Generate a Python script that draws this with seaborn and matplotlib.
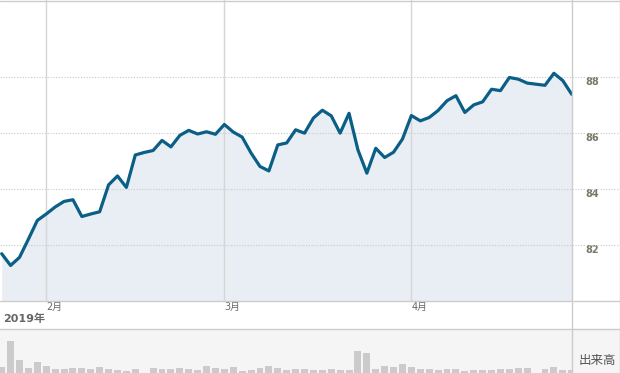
import numpy as np
import pandas as pd
import matplotlib
matplotlib.use("Agg")
import matplotlib.pyplot as plt
import seaborn as sns
from matplotlib.lines import Line2D
from matplotlib.patches import Rectangle

# estilo base, depois a gente sobrescreve as fontes
sns.set_style("white")
plt.rcParams['font.family'] = ['Noto Sans CJK JP', 'DejaVu Sans']

# dados (um ponto por pregao)
precos = [81.69, 81.27, 81.56, 82.21, 82.88, 83.11, 83.36, 83.56, 83.62, 83.02,
          83.11, 83.19, 84.15, 84.47, 84.06, 85.22, 85.31, 85.38, 85.74, 85.51,
          85.92, 86.10, 85.97, 86.05, 85.96, 86.31, 86.04, 85.86, 85.29, 84.81,
          84.65, 85.58, 85.65, 86.12, 86.00, 86.54, 86.82, 86.62, 86.00, 86.71,
          85.40, 84.57, 85.46, 85.13, 85.32, 85.79, 86.63, 86.44, 86.56, 86.81,
          87.16, 87.34, 86.74, 87.01, 87.12, 87.57, 87.52, 87.99, 87.93, 87.79,
          87.75, 87.71, 88.14, 87.88, 87.39]
volume = [6, 32, 13, 5, 11, 7, 4, 4, 5, 5, 4, 6, 4, 3, 2, 4, 0, 5, 4, 4,
          5, 4, 3, 7, 5, 4, 6, 2, 3, 5, 7, 5, 3, 4, 4, 3, 3, 4, 3, 3,
          22, 20, 4, 7, 6, 9, 6, 4, 4, 3, 4, 4, 2, 3, 3, 3, 4, 4, 5, 5,
          0, 4, 6, 3, 3]
meses = ['2月', '3月', '4月']
inicio_mes = [5, 25, 46]   # indice do primeiro pregao de cada mes
y_ticks = [82, 84, 86, 88]

df = pd.DataFrame({'dia': np.arange(len(precos)), 'preco': precos, 'volume': volume})

W, H = 620, 373
fig = plt.figure(figsize=(6.2, 3.73), dpi=100)

x_dir = 571.7        # borda direita da area de plot (px)
y_base = 301         # fundo do grafico de preco (px)
y_vol = 329.3        # topo do painel de volume (px)

cor_linha = '#0b5f87'
cor_area = '#e9eef5'
cor_borda = '#cccccc'
cor_fundo_vol = '#f5f5f5'

# fundo cinza so na parte da direita do painel de volume
fig.patches.append(Rectangle((x_dir / W, 0), 1 - x_dir / W, (H - y_vol) / H,
                             transform=fig.transFigure, color=cor_fundo_vol, zorder=-5))

# ---------------- preco ----------------
ax = fig.add_axes([0, 1 - y_base / H, x_dir / W, y_base / H])
ax.set_facecolor('none')
ax.fill_between(df['dia'], df['preco'], 80, color=cor_area, lw=0, zorder=1)
sns.lineplot(data=df, x='dia', y='preco', ax=ax, color=cor_linha, lw=2.3, zorder=3)
ax.set_xlim(-0.19, 64)
ax.set_ylim(80.0, 90.76)

for v in y_ticks:
    ax.axhline(v, xmin=0, xmax=W / x_dir, color='#c8c8c8', lw=0.8, ls=(0, (1, 1.5)),
               clip_on=False, zorder=2)
for m in inicio_mes:
    ax.axvline(m, color='#d6d6d6', lw=1, zorder=2)

ax.yaxis.tick_right()
ax.set_yticks(y_ticks)
ax.set_yticklabels([str(v) for v in y_ticks], fontsize=7, fontweight='bold',
                   color='#7b7766', family=['DejaVu Sans'], va='top')
ax.tick_params(axis='y', length=0, pad=10)
ax.set_xticks(inicio_mes)
ax.set_xticklabels(meses, fontsize=7, color='#666666', ha='left',
                   family=['DejaVu Sans', 'Noto Sans CJK JP'])
ax.tick_params(axis='x', length=0, pad=1)
ax.set_xlabel('')
ax.set_ylabel('')
for s in ax.spines.values():
    s.set_visible(False)

# ---------------- volume ----------------
axv = fig.add_axes([0, 0, x_dir / W, (H - y_vol) / H])
axv.set_facecolor(cor_fundo_vol)
sns.barplot(data=df, x='dia', y='volume', ax=axv, color='#cbcbcb', width=0.78,
            saturation=1, edgecolor='none')
axv.set_xlim(-0.19, 64)
axv.set_ylim(0, 43.7)
axv.set_xticks([])
axv.set_yticks([])
axv.set_xlabel('')
axv.set_ylabel('')
for s in axv.spines.values():
    s.set_visible(False)

# textos soltos
fig.text(3 / W, 1 - 318.5 / H, '2019年', fontsize=8, fontweight='bold', color='#666666',
         va='center', ha='left', family=['DejaVu Sans', 'Noto Sans CJK JP'])
fig.text(597 / W, 1 - 360.5 / H, '出来高', fontsize=9, color='#555555',
         va='center', ha='center')

# bordas e separadores
def linha(xs, ys):
    fig.add_artist(Line2D([x / W for x in xs], [1 - y / H for y in ys], color=cor_borda,
                          lw=1, transform=fig.transFigure, zorder=5))

linha([0, W], [y_base, y_base])
linha([0, W], [y_vol, y_vol])
linha([0, W], [0.5, 0.5])
linha([x_dir, x_dir], [0, H])
linha([W - 0.5, W - 0.5], [0, H])

fig.savefig('out.png', dpi=100)
